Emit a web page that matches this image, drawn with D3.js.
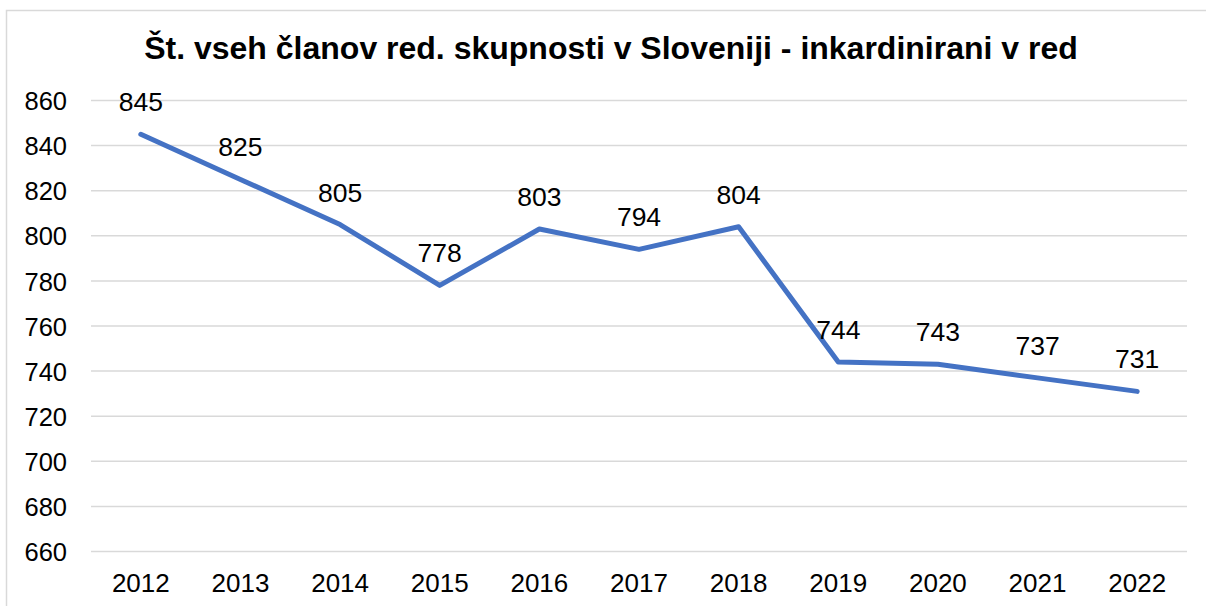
<!DOCTYPE html>
<html>
<head>
<meta charset="utf-8">
<script src="https://cdn.jsdelivr.net/npm/d3@7"></script>
<style>
  html, body { margin: 0; padding: 0; background: #fff; }
  svg { display: block; font-family: Arial, "Liberation Sans", sans-serif; }
</style>
</head>
<body>
<div class="chart_wrapper"></div>
<script>
const title = "Št. vseh članov red. skupnosti v Sloveniji - inkardinirani v red"
const years = ["2012", "2013", "2014", "2015", "2016", "2017", "2018", "2019", "2020", "2021", "2022"]
const members = [845, 825, 805, 778, 803, 794, 804, 744, 743, 737, 731]
const yTicks = [660, 680, 700, 720, 740, 760, 780, 800, 820, 840, 860]

const width = 1206
const height = 606
const margin = { top: 100.5, right: 19, bottom: 54.5, left: 91 }

const svg = d3.select('.chart_wrapper')
    .append('svg')
    .attr('width', width)
    .attr('height', height)

// chart frame
svg.append('rect')
    .attr('x', 6.5).attr('y', 10.5)
    .attr('width', width + 20).attr('height', height + 20)
    .attr('fill', '#fff')
    .attr('stroke', '#d9d9d9')
    .attr('stroke-width', 1.5)

const x = d3.scaleBand()
    .domain(years)
    .range([margin.left, width - margin.right])

const y = d3.scaleLinear()
    .domain([660, 860])
    .range([height - margin.bottom, margin.top])

// gridlines
svg.append('g')
    .selectAll('line')
    .data(yTicks)
    .join('line')
    .attr('x1', margin.left)
    .attr('x2', width - margin.right)
    .attr('y1', d => y(d))
    .attr('y2', d => y(d))
    .attr('stroke', '#d9d9d9')
    .attr('stroke-width', 1.5)

// y axis labels
const yAxis = svg.append('g')
    .attr('transform', `translate(${67},0)`)
    .call(d3.axisLeft(y).tickValues(yTicks).tickSize(0).tickPadding(0))
yAxis.select('.domain').remove()
yAxis.selectAll('text')
    .attr('font-size', '25.5px')
    .attr('font-family', 'Arial, "Liberation Sans", sans-serif')
    .attr('fill', '#000')
    .attr('dy', '0.36em')

// x axis labels
const xAxis = svg.append('g')
    .attr('transform', `translate(0,${height - margin.bottom})`)
    .call(d3.axisBottom(x).tickSize(0).tickPadding(0))
xAxis.select('.domain').remove()
xAxis.selectAll('text')
    .attr('font-size', '26px')
    .attr('font-family', 'Arial, "Liberation Sans", sans-serif')
    .attr('fill', '#000')
    .attr('dy', null)
    .attr('y', 40.5)

const line = d3.line()
    .x((d, i) => x(years[i]) + x.bandwidth() / 2)
    .y(d => y(d))

svg.append('path')
    .datum(members)
    .attr('d', line)
    .attr('fill', 'none')
    .attr('stroke', '#4472c4')
    .attr('stroke-width', 5)
    .attr('stroke-linecap', 'round')
    .attr('stroke-linejoin', 'round')

// data labels above points
svg.append('g')
    .attr('text-anchor', 'middle')
    .attr('font-size', '26.5px')
    .selectAll('text')
    .data(members)
    .join('text')
    .attr('x', (d, i) => x(years[i]) + x.bandwidth() / 2)
    .attr('y', d => y(d) - 23)
    .attr('fill', '#000')
    .text(d => d)

svg.append('text')
    .attr('x', 611)
    .attr('y', 58.5)
    .attr('text-anchor', 'middle')
    .attr('font-size', '32px')
    .attr('font-weight', 'bold')
    .attr('fill', '#000')
    .text(title)
</script>
</body>
</html>
